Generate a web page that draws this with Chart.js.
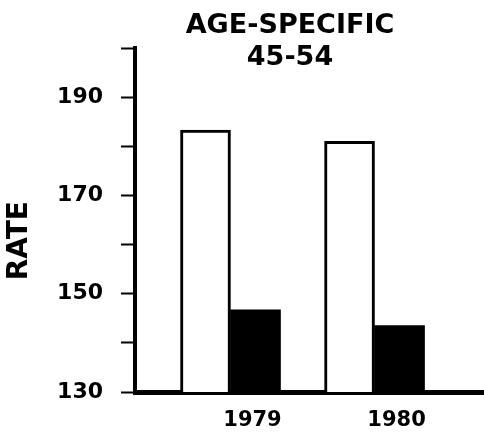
<!DOCTYPE html>
<html>
<head>
<meta charset="utf-8">
<script src="https://cdn.jsdelivr.net/npm/chart.js@4"></script>
<style>
  html, body { margin: 0; padding: 0; background: #fff; }
  #wrap { width: 484px; height: 435px; }
</style>
</head>
<body>
<div id="wrap"><canvas id="rateChart"></canvas></div>
<script>
// values
const years = ["1979", "1980"];
const openBars = [183.3, 181];
const solidBars = [146.7, 143.5];
const yLabels = [130, 150, 170, 190];
const titleLines = ["AGE-SPECIFIC", "45-54"];
const axisTitle = "RATE";

Chart.defaults.font.family = "'DejaVu Sans', sans-serif";
Chart.defaults.font.weight = "bold";
Chart.defaults.color = "#000";

// heading and axis name sit a bit off the plot centre in the original,
// so they are drawn here instead of by the title options
const headingPlugin = {
    id: "heading",
    afterDraw(chart) {
        let ctx = chart.ctx;
        let area = chart.chartArea;
        ctx.save();
        ctx.fillStyle = "#000";
        ctx.textAlign = "center";
        ctx.textBaseline = "alphabetic";
        ctx.font = "bold 27px 'DejaVu Sans'";
        titleLines.forEach((line, i) => ctx.fillText(line, 290, 33 + i * 32));

        ctx.font = "bold 28px 'DejaVu Sans'";
        ctx.textBaseline = "middle";
        ctx.translate(20, area.top + (area.bottom - area.top) * 0.56);
        ctx.rotate(-Math.PI / 2);
        ctx.fillText(axisTitle, 0, 0);
        ctx.restore();
    }
};

new Chart(document.getElementById("rateChart"), {
    type: "bar",
    data: {
        labels: years,
        datasets: [{
            data: openBars,
            backgroundColor: "#fff",
            borderColor: "#000",
            borderWidth: 3,
            barThickness: 50
        }, {
            data: solidBars,
            backgroundColor: "#000",
            borderWidth: 0,
            barThickness: 50
        }]
    },
    options: {
        responsive: true,
        maintainAspectRatio: false,
        animation: false,
        layout: { padding: { top: 48, left: 4, right: 0, bottom: 4 } },
        plugins: {
            legend: { display: false },
            tooltip: { enabled: false }
        },
        scales: {
            x: {
                type: "linear",
                offset: false,
                bounds: "data",
                min: 1978.337,
                max: 1980.76,
                afterBuildTicks: s => { s.ticks = years.map(y => ({ value: +y })); },
                afterFit: s => { s.height = 39; },
                ticks: {
                    callback: v => String(v),
                    font: { size: 21, weight: "bold" },
                    padding: 16,
                    labelOffset: 22,
                    maxRotation: 0
                },
                grid: { display: false, drawTicks: false },
                border: { color: "#000", width: 5 }
            },
            y: {
                min: 130,
                max: 200,
                afterFit: s => { s.width = 131; },
                ticks: {
                    stepSize: 10,
                    callback: v => yLabels.includes(v) ? String(v) : "",
                    font: { size: 22, weight: "bold" },
                    padding: 18
                },
                grid: {
                    drawOnChartArea: false,
                    drawTicks: true,
                    tickLength: 14,
                    tickColor: "#000",
                    tickWidth: 2,
                    color: "#000"
                },
                border: { color: "#000", width: 4 }
            }
        }
    },
    plugins: [headingPlugin]
});
</script>
</body>
</html>
